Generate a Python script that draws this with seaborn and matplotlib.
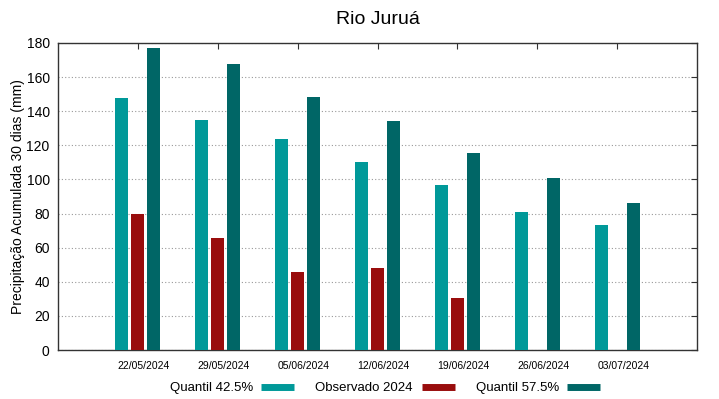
import numpy as np
import pandas as pd
import matplotlib
matplotlib.use('Agg')
import matplotlib.pyplot as plt
import matplotlib.transforms as mtransforms
from matplotlib.lines import Line2D
import seaborn as sns

# Data
datas = ['22/05/2024', '29/05/2024', '05/06/2024', '12/06/2024',
         '19/06/2024', '26/06/2024', '03/07/2024']
quantil_425 = [148, 135, 123.5, 110.5, 97, 81, 73]
observado = [80, 65.6, 46, 47.8, 30.7, np.nan, np.nan]
quantil_575 = [177, 167.5, 148.4, 134.3, 115.6, 101, 86.3]

series = ['Quantil 42.5%', 'Observado 2024', 'Quantil 57.5%']
cores = ['#009999', '#990d0d', '#006666']

df = pd.DataFrame({
    'data': datas * 3,
    'serie': [series[0]] * 7 + [series[1]] * 7 + [series[2]] * 7,
    'valor': quantil_425 + observado + quantil_575,
})

sns.set_style('white')
plt.rcParams['font.family'] = ['Liberation Sans', 'DejaVu Sans']
plt.rcParams['text.color'] = 'black'
plt.rcParams['axes.labelcolor'] = 'black'

fig = plt.figure(figsize=(7.19, 3.99), dpi=100)
ax = fig.add_axes([0.0807, 0.1228, 0.8887, 0.7695])

sns.barplot(data=df, x='data', y='valor', hue='serie', hue_order=series,
            palette=cores, saturation=1, width=0.6, gap=0.18, errorbar=None,
            linewidth=0, legend=False, ax=ax, zorder=3)

ax.set_xlim(-1, 7)
ax.set_ylim(0, 180)
ax.set_yticks(range(0, 181, 20))
ax.yaxis.grid(True, linestyle=(0, (1, 2)), color='#999999', linewidth=0.8, zorder=0)
ax.set_axisbelow(True)

ax.tick_params(axis='both', direction='in', top=True, right=True, length=4,
               width=0.8, color='#333333', labelcolor='black')
ax.tick_params(axis='y', labelsize=10, pad=6)
ax.tick_params(axis='x', labelsize=7.5, pad=8)
for s in ax.spines.values():
    s.set_color('#333333')
    s.set_linewidth(1)

# gnuplot-like offset of the date labels
off = mtransforms.ScaledTranslation(0.06, 0, fig.dpi_scale_trans)
for lab in ax.get_xticklabels():
    lab.set_transform(lab.get_transform() + off)

ax.set_xlabel('')
ax.set_ylabel('Precipitação Acumulada 30 dias (mm)', fontsize=10, labelpad=1)
fig.suptitle('Rio Juruá', fontsize=14, x=0.525, y=0.972, color='black')

handles = [Line2D([0], [0], color=c, lw=5, solid_capstyle='butt') for c in cores]
fig.legend(handles, series, loc='center', bbox_to_anchor=(0.5355, 1 - 388 / 399),
           ncol=3, frameon=False, markerfirst=False, fontsize=9.5,
           handlelength=2.5, handletextpad=0.65, columnspacing=1.6)

fig.savefig('out.png', dpi=100)
